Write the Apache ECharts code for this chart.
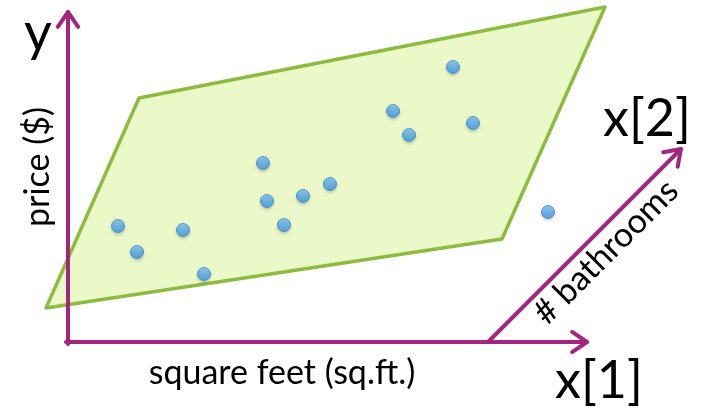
<!DOCTYPE html>
<html>
<head>
<meta charset="utf-8">
<script src="https://cdn.jsdelivr.net/npm/echarts@6/dist/echarts.min.js"></script>
<style>
  html, body { margin: 0; padding: 0; background: #fff; }
  #main { width: 701px; height: 409px; }
</style>
</head>
<body>
<div id="main"></div>
<script>
// plane corners (x, y) in diagram units
const planeX = [46, 139, 605, 502];
const planeY = [308, 98, 7, 239];
// houses
const pointX = [118, 137, 183, 204, 263, 267, 284, 303, 330, 393, 409, 453, 473, 548];
const pointY = [226, 252, 230, 274, 163, 201, 225, 196, 184, 111, 135, 67, 123, 212];
// axis arrows: [fromX, fromY, toX, toY]
const arrowY = [68, 344, 68, 12];
const arrowX1 = [66, 342, 587, 342];
const arrowX2 = [488, 342, 681, 149];

const purple = '#A3267E';
const font = 'Lato, "Open Sans", sans-serif';

var chart = echarts.init(document.getElementById('main'));

function arrowItem(params, api) {
  var a = api.coord([api.value(0), api.value(1)]);
  var b = api.coord([api.value(2), api.value(3)]);
  var ang = Math.atan2(b[1] - a[1], b[0] - a[0]);
  var len = 18, spread = 0.6;
  var h1 = [b[0] - len * Math.cos(ang - spread), b[1] - len * Math.sin(ang - spread)];
  var h2 = [b[0] - len * Math.cos(ang + spread), b[1] - len * Math.sin(ang + spread)];
  var st = { stroke: purple, lineWidth: 4, fill: null, lineCap: 'round', lineJoin: 'round' };
  return {
    type: 'group',
    children: [
      { type: 'polyline', shape: { points: [a, b] }, style: st },
      { type: 'polyline', shape: { points: [h1, b, h2] }, style: st }
    ]
  };
}

chart.setOption({
  animation: false,
  grid: { left: 0, top: 0, right: 0, bottom: 0 },
  xAxis: { type: 'value', min: 0, max: 701, show: false },
  yAxis: { type: 'value', min: 0, max: 409, inverse: true, show: false },
  series: [
    {
      type: 'custom',
      data: [0],
      z: 1,
      renderItem: function (params, api) {
        var pts = planeX.map(function (x, i) { return api.coord([x, planeY[i]]); });
        return {
          type: 'polygon',
          shape: { points: pts },
          style: { fill: '#EBF9C9', stroke: '#8DBB3F', lineWidth: 3.5, lineJoin: 'round' }
        };
      }
    },
    {
      type: 'custom',
      z: 2,
      data: [arrowY, arrowX1, arrowX2],
      renderItem: arrowItem
    },
    {
      type: 'scatter',
      z: 3,
      symbolSize: 13,
      data: pointX.map(function (x, i) { return [x, pointY[i]]; }),
      itemStyle: {
        color: new echarts.graphic.LinearGradient(0, 0, 0, 1, [
          { offset: 0, color: '#86C6F4' },
          { offset: 0.5, color: '#55A9EC' },
          { offset: 1, color: '#3C92DE' }
        ]),
        borderColor: '#3786D0',
        borderWidth: 1,
        shadowColor: 'rgba(0,0,0,0.2)',
        shadowBlur: 3,
        shadowOffsetY: 2
      }
    }
  ],
  graphic: [
    { type: 'text', x: 38, y: 34,
      style: { text: 'y', font: '54px ' + font, fill: '#000', align: 'center', verticalAlign: 'middle' } },
    { type: 'text', x: 38, y: 167, rotation: Math.PI / 2,
      style: { text: 'price ($)', font: '34px ' + font, fill: '#000', align: 'center', verticalAlign: 'middle' } },
    { type: 'text', x: 282, y: 373,
      style: { text: 'square feet (sq.ft.)', font: '34px ' + font, fill: '#000', align: 'center', verticalAlign: 'middle' } },
    { type: 'text', x: 599, y: 381,
      style: { text: 'x[1]', font: '52px ' + font, fill: '#000', align: 'center', verticalAlign: 'middle' } },
    { type: 'text', x: 647, y: 119,
      style: { text: 'x[2]', font: '52px ' + font, fill: '#000', align: 'center', verticalAlign: 'middle' } },
    { type: 'text', x: 606, y: 252, rotation: Math.PI / 4,
      style: { text: '# bathrooms', font: '34px ' + font, fill: '#000', align: 'center', verticalAlign: 'middle' } }
  ]
});
</script>
</body>
</html>
